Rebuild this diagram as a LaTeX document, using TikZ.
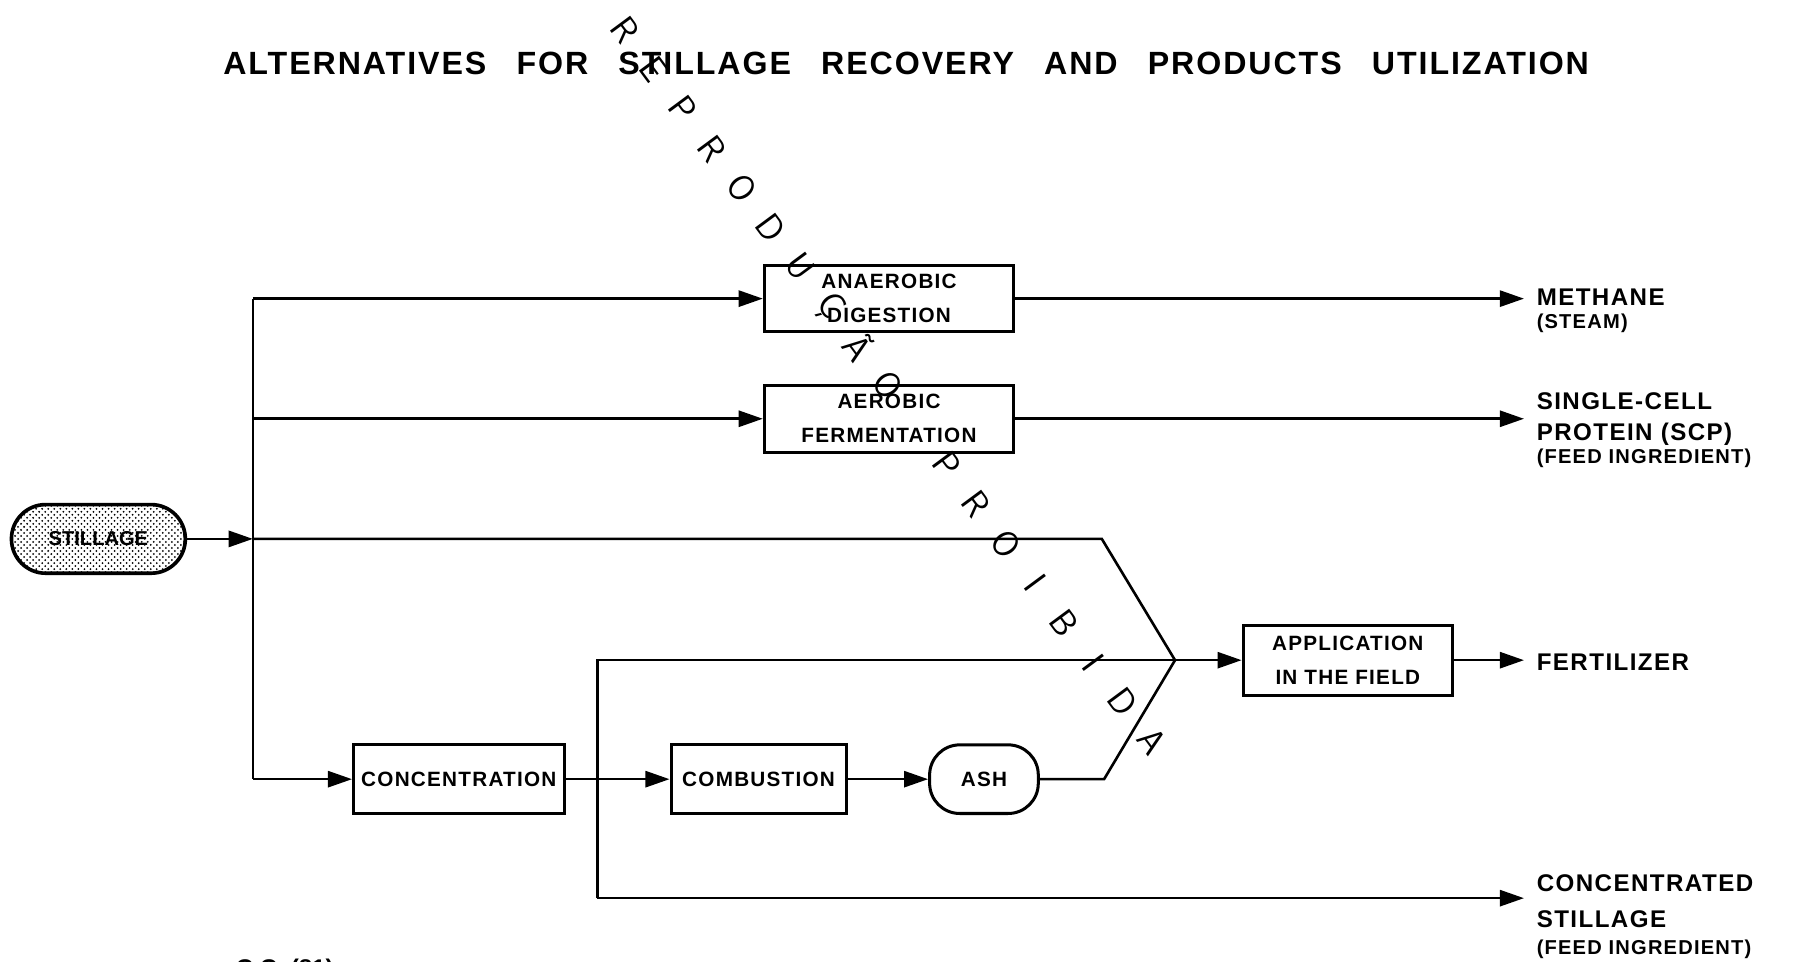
\documentclass[tikz,border=0pt]{standalone}
\usepackage{fontspec}
\setmainfont{Liberation Sans}
\newfontfamily\lblfont{Liberation Sans}[LetterSpace=6]
\newfontfamily\ttlfont{Liberation Sans}[LetterSpace=6]
\usetikzlibrary{arrows.meta,patterns,calc}

\tikzset{
  flow/.style={-{Triangle[length=12pt,width=8pt]}},
  procbox/.style={draw,line width=1.5pt,align=center,inner sep=0pt,
    font=\lblfont\bfseries\fontsize{10.3}{17}\selectfont},
  outtext/.style={anchor=base west,inner sep=0pt,font=\lblfont\bfseries\fontsize{12}{14}\selectfont},
  subtext/.style={outtext,font=\lblfont\bfseries\fontsize{10}{12}\selectfont},
  stamp/.style={font=\sffamily\fontsize{18}{18}\selectfont,inner sep=0pt}
}

\begin{document}
\begin{tikzpicture}[x=.02cm,y=-.02cm,line width=1.3pt]
\useasboundingbox (0,0) rectangle (1568,840);
\node[font=\ttlfont\bfseries\fontsize{16}{18}\selectfont] (title) at (792,55) {ALTERNATIVES\hspace{15pt}FOR\hspace{15pt}STILLAGE\hspace{15pt}RECOVERY\hspace{15pt}AND\hspace{15pt}PRODUCTS\hspace{15pt}UTILIZATION};

% input and process boxes
\node[draw,line width=1.8pt,rounded corners=17pt,minimum width=3.04cm,minimum height=1.2cm,pattern=crosshatch dots,font=\bfseries\fontsize{10}{12}\selectfont] (stillage) at (86,471) {STILLAGE};
\node[procbox,minimum width=4.36cm,minimum height=1.16cm] (anaer) at (777,261) {ANAEROBIC\\DIGESTION};
\node[procbox,minimum width=4.36cm,minimum height=1.18cm] (aer) at (777,366) {AEROBIC\\FERMENTATION};
\node[procbox,minimum width=3.66cm,minimum height=1.22cm] (app) at (1178,577) {APPLICATION\\IN THE FIELD};
\node[procbox,minimum width=3.68cm,minimum height=1.2cm] (conc) at (401,681) {CONCENTRATION};
\node[procbox,minimum width=3.06cm,minimum height=1.2cm] (comb) at (663,681) {COMBUSTION};
\node[procbox,rounded corners=15pt,minimum width=1.9cm,minimum height=1.2cm] (ash) at (860,681) {ASH};

\coordinate (t1) at (221,261);\coordinate (t2) at (221,366);
\coordinate (t3) at (221,471);\coordinate (t4) at (221,681);
\coordinate (bend1) at (963,471);\coordinate (merge) at (1027,577);\coordinate (bend2) at (965,681);
\coordinate (c1) at (522,577);\coordinate (c2) at (522,785);
\coordinate (outm) at (1332,261);\coordinate (outs) at (1332,366);
\coordinate (outf) at (1332,577);\coordinate (outc) at (1332,785);

% connectors
\draw[flow] (stillage) -- (t3);
\draw (t1) -- (t4);
\draw[flow] (t1) -- (anaer);
\draw[flow] (t2) -- (aer);
\draw[flow] (t4) -- (conc);
\draw[flow] (anaer) -- (outm);
\draw[flow] (aer) -- (outs);
\draw (t3) -- (bend1) -- (merge);
\draw (c2) -- (c1) -- (merge);
\draw[flow] (merge) -- (app);
\draw[flow] (app) -- (outf);
\draw[flow] (conc) -- (comb);
\draw[flow] (comb) -- (ash);
\draw (ash) -- (bend2) -- (merge);
\draw[flow] (c2) -- (outc);

% products
\node[outtext] (methane) at (1342,267) {METHANE};
\node[subtext] (steam) at (1342,287) {(STEAM)};
\node[outtext] (scp1) at (1342,358) {SINGLE-CELL};
\node[outtext] (scp2) at (1342,385) {PROTEIN (SCP)};
\node[subtext] (feed1) at (1342,405) {(FEED INGREDIENT)};
\node[outtext] (fert) at (1342,586) {FERTILIZER};
\node[outtext] (cst1) at (1342,779) {CONCENTRATED};
\node[outtext] (cst2) at (1342,811) {STILLAGE};
\node[subtext] (feed2) at (1342,834) {(FEED INGREDIENT)};
\node[anchor=north west,inner sep=0pt,font=\bfseries\fontsize{12}{14}\selectfont] (figref) at (205,837) {C.C.\ (81)};

% stamp across the sheet
\coordinate (wmA) at (546,26);\coordinate (wmB) at (1007,648);
\foreach \ch [count=\i from 0] in {R,E,P,R,O,D,U,Ç,Ã,O,{},P,R,O,I,B,I,D,A}
  \node[stamp,rotate=-53.5] (stamp\i) at ($(wmA)!\i/18!(wmB)$) {\ch};
\end{tikzpicture}
\end{document}
